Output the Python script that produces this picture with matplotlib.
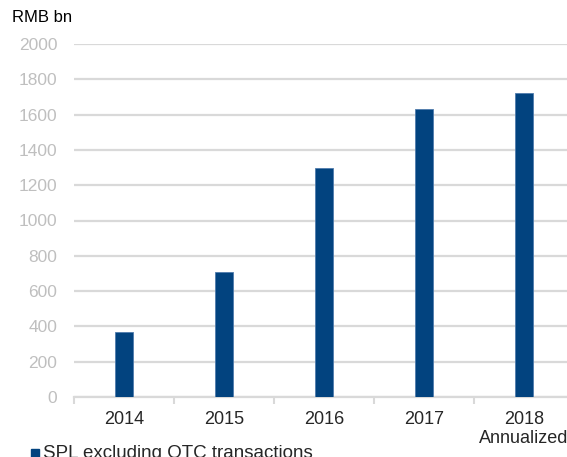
import numpy as np
import matplotlib
matplotlib.use('Agg')
import matplotlib.pyplot as plt

plt.rcParams['font.family'] = ['Liberation Sans', 'DejaVu Sans']

years = ['2014', '2015', '2016', '2017', '2018\nAnnualized']
values = [370, 710, 1300, 1630, 1720]
bar_color = '#02437f'

fig = plt.figure(figsize=(5.67, 4.57), dpi=100)
ax = fig.add_axes([74 / 567, 1 - 397 / 457, 500 / 567, 353 / 457])

x = np.arange(len(years))
ax.bar(x, values, width=0.18, color=bar_color, edgecolor='#4f7cad',
       linewidth=0.6, zorder=3)

ax.set_xlim(-0.5, len(years) - 0.5)
ax.set_ylim(0, 2000)
ax.set_yticks(np.arange(0, 2001, 200))
ax.yaxis.grid(True, color='#d9d9d9', linewidth=1.6, zorder=0)
ax.tick_params(axis='y', length=0, pad=12, labelsize=12.5, labelcolor='#bfbfbf')

ax.set_xticks(x)
ax.set_xticklabels(years, fontsize=13, color='#262626', linespacing=1.15)
ax.set_xticks(np.arange(-0.5, len(years)), minor=True)
ax.tick_params(axis='x', which='major', length=0, pad=10)
ax.tick_params(axis='x', which='minor', length=5, color='#d9d9d9', width=1.5)

for side in ['left', 'right', 'top']:
    ax.spines[side].set_visible(False)
ax.spines['bottom'].set_color('#d9d9d9')
ax.spines['bottom'].set_linewidth(1.6)

fig.text(12 / 567, 1 - 18 / 457, 'RMB bn', fontsize=12, color='black',
         va='center', ha='left')

fig.patches.append(plt.Rectangle((31 / 567, 1 - 457 / 457), 8 / 567, 8 / 457,
                                 transform=fig.transFigure, color=bar_color,
                                 figure=fig))
fig.text(43 / 567, 1 - 454 / 457, 'SPL excluding OTC transactions',
         fontsize=13.5, color='#262626', va='center', ha='left')

fig.savefig('out.png', dpi=100)
